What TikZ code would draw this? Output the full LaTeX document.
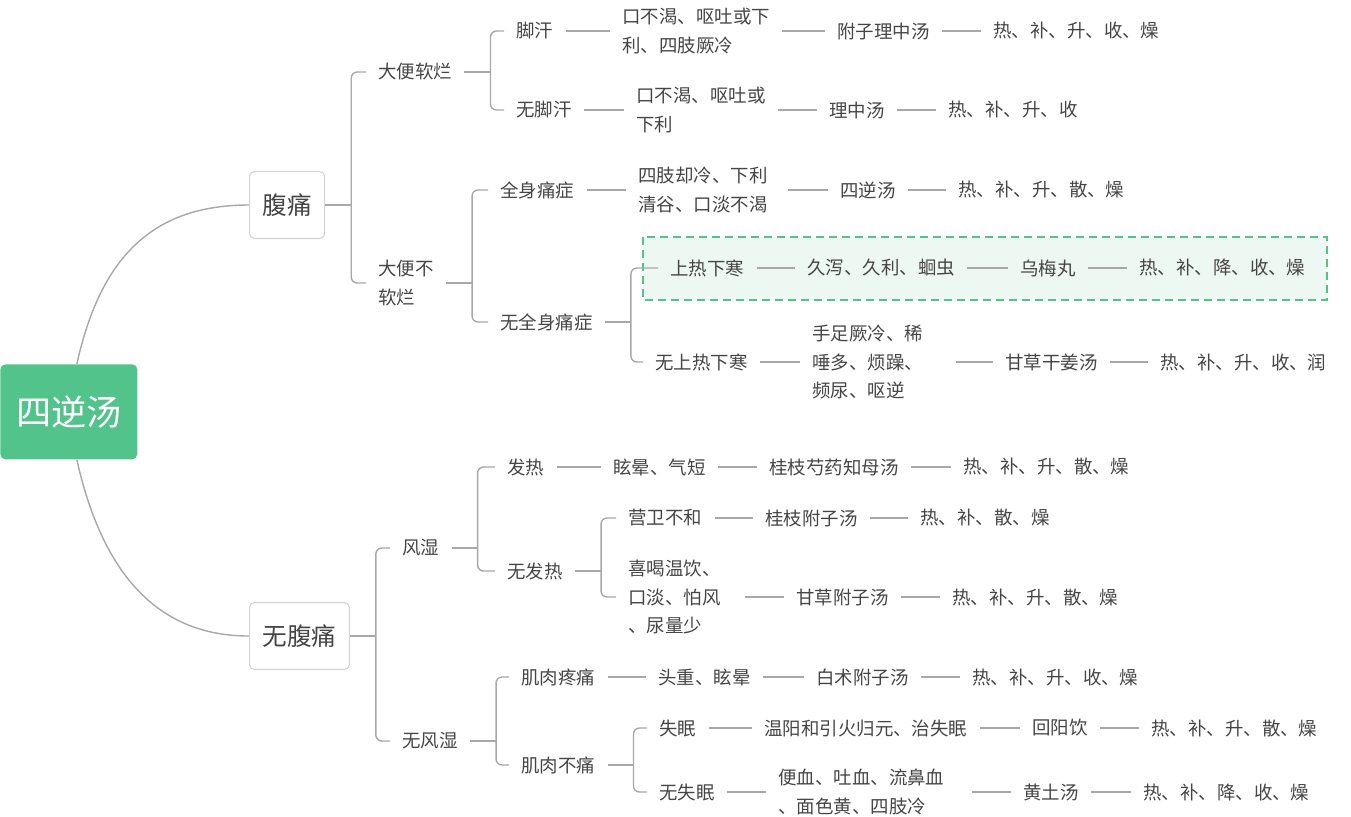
\documentclass[tikz,border=0pt]{standalone}
\usepackage{fontspec}
\setmainfont{Noto Sans CJK SC}
\definecolor{mmgreen}{HTML}{52C48B}
\definecolor{mmfill}{HTML}{EEF8F2}
\definecolor{mmline}{HTML}{A8A8A8}
\definecolor{mmtext}{HTML}{454545}
\definecolor{mmborder}{HTML}{D4D4D4}
\begin{document}
\begin{tikzpicture}[x=0.02cm,y=-0.02cm,
    rootbox/.style={fill=mmgreen,text=white,rounded corners=0.1cm,inner sep=0pt,
        minimum width=2.74cm,minimum height=1.9cm,font=\fontsize{20pt}{24pt}\selectfont},
    topicbox/.style={draw=mmborder,fill=white,line width=0.6pt,rounded corners=0.1cm,
        inner xsep=0.26cm,inner ysep=0pt,minimum height=1.34cm,text=mmtext,
        font=\fontsize{14pt}{17pt}\selectfont},
    mmtxt/.style={anchor=west,inner xsep=0.24cm,inner ysep=0pt,align=left,text=mmtext,
        font=\fontsize{10.5pt}{16.4pt}\selectfont},
    conn/.style={draw=mmline,line width=0.8pt,rounded corners=0.12cm},
    mmcurve/.style={draw=mmline,line width=0.8pt},
    hlbox/.style={draw=mmgreen,fill=mmfill,line width=1.1pt,dash pattern=on 0.16cm off 0.1cm}]
    \useasboundingbox (0,0) rectangle (1351,816);

    % highlighted row
    \draw[hlbox] (643,237) rectangle (1327,300);

    \node[rootbox,anchor=north west] (root) at (0,364) {四逆汤};
    \node[topicbox,anchor=west] (fu) at (249,205) {腹痛};
    \node[topicbox,anchor=west] (wufu) at (249,636) {无腹痛};

    \draw[mmcurve] ([xshift=0.16cm]root.north) .. controls (100,260) and (150,205) .. (fu.west);
    \draw[mmcurve] ([xshift=0.16cm]root.south) .. controls (100,563) and (150,636) .. (wufu.west);

    % upper half
    \node[mmtxt] (dbrl) at (366,72) {大便软烂};
    \node[mmtxt] (dbbrl) at (366,283) {大便不\\软烂};
    \node[mmtxt] (jh) at (504,31) {脚汗};
    \node[mmtxt] (jh1) at (610,31) {口不渴、呕吐或下\\利、四肢厥冷};
    \node[mmtxt] (jh2) at (825,31) {附子理中汤};
    \node[mmtxt] (jh3) at (981,31) {热、补、升、收、燥};
    \node[mmtxt] (wjh) at (504,110) {无脚汗};
    \node[mmtxt] (wjh1) at (624,110) {口不渴、呕吐或\\下利};
    \node[mmtxt] (wjh2) at (817,110) {理中汤};
    \node[mmtxt] (wjh3) at (936,110) {热、补、升、收};
    \node[mmtxt] (qs) at (488,190) {全身痛症};
    \node[mmtxt,text width=2.74cm] (qs1) at (626,190) {四肢却冷、下利\\清谷、口淡不渴};
    \node[mmtxt] (qs2) at (828,190) {四逆汤};
    \node[mmtxt] (qs3) at (946,190) {热、补、升、散、燥};
    \node[mmtxt] (wqs) at (488,322) {无全身痛症};
    \node[mmtxt] (sr) at (658,268) {上热下寒};
    \node[mmtxt] (sr1) at (795,268) {久泻、久利、蛔虫};
    \node[mmtxt] (sr2) at (1008,268) {乌梅丸};
    \node[mmtxt] (sr3) at (1127,268) {热、补、降、收、燥};
    \node[mmtxt] (wsr) at (643,362) {无上热下寒};
    \node[mmtxt,text width=2.62cm] (wsr1) at (800,362) {手足厥冷、稀\\唾多、烦躁、\\频尿、呕逆};
    \node[mmtxt] (wsr2) at (993,362) {甘草干姜汤};
    \node[mmtxt] (wsr3) at (1148,362) {热、补、升、收、润};

    % lower half
    \node[mmtxt] (fs) at (390,548) {风湿};
    \node[mmtxt] (wfs) at (390,741) {无风湿};
    \node[mmtxt] (fr) at (495,467) {发热};
    \node[mmtxt] (fr1) at (601,467) {眩晕、气短};
    \node[mmtxt] (fr2) at (757,467) {桂枝芍药知母汤};
    \node[mmtxt] (fr3) at (951,467) {热、补、升、散、燥};
    \node[mmtxt] (wfr) at (495,571) {无发热};
    \node[mmtxt] (yw) at (616,518) {营卫不和};
    \node[mmtxt] (yw1) at (753,518) {桂枝附子汤};
    \node[mmtxt] (yw2) at (908,518) {热、补、散、燥};
    \node[mmtxt,text width=2.08cm] (xh) at (616,597) {喜喝温饮、\\口淡、怕风\\、尿量少};
    \node[mmtxt] (xh1) at (784,597) {甘草附子汤};
    \node[mmtxt] (xh2) at (940,597) {热、补、升、散、燥};
    \node[mmtxt] (jr) at (509,677) {肌肉疼痛};
    \node[mmtxt] (jr1) at (646,677) {头重、眩晕};
    \node[mmtxt] (jr2) at (804,677) {白术附子汤};
    \node[mmtxt] (jr3) at (960,677) {热、补、升、收、燥};
    \node[mmtxt] (jb) at (509,765) {肌肉不痛};
    \node[mmtxt] (sm) at (647,728) {失眠};
    \node[mmtxt] (sm1) at (752,728) {温阳和引火归元、治失眠};
    \node[mmtxt] (sm2) at (1020,728) {回阳饮};
    \node[mmtxt] (sm3) at (1139,728) {热、补、升、散、燥};
    \node[mmtxt] (wsm) at (647,792) {无失眠};
    \node[mmtxt,text width=3.62cm] (bx) at (766,792) {便血、吐血、流鼻血\\、面色黄、四肢冷};
    \node[mmtxt] (bx1) at (1011,792) {黄土汤};
    \node[mmtxt] (bx2) at (1131,792) {热、补、降、收、燥};

    % brackets
    \foreach \p/\kids in {fu/{dbrl,dbbrl},dbrl/{jh,wjh},dbbrl/{qs,wqs},wqs/{sr,wsr},
            wufu/{fs,wfs},fs/{fr,wfr},wfr/{yw,xh},wfs/{jr,jb},jb/{sm,wsm}}{
        \draw[conn] (\p.east) -- ++(26,0) coordinate (\p-j);
        \foreach \c in \kids
            \draw[conn] (\p-j) |- (\c.west);
    }

    % chains
    \foreach \a/\b in {jh/jh1,jh1/jh2,jh2/jh3,wjh/wjh1,wjh1/wjh2,wjh2/wjh3,
            qs/qs1,qs1/qs2,qs2/qs3,sr/sr1,sr1/sr2,sr2/sr3,wsr/wsr1,wsr1/wsr2,wsr2/wsr3,
            fr/fr1,fr1/fr2,fr2/fr3,yw/yw1,yw1/yw2,xh/xh1,xh1/xh2,
            jr/jr1,jr1/jr2,jr2/jr3,sm/sm1,sm1/sm2,sm2/sm3,wsm/bx,bx/bx1,bx1/bx2}
        \draw[conn] (\a.east) -- (\b.west);
\end{tikzpicture}
\end{document}
